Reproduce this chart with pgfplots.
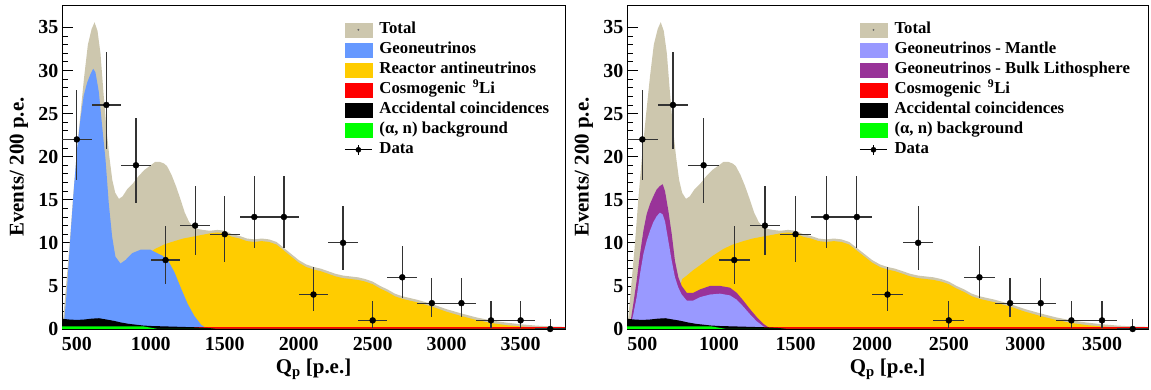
\documentclass[border=0pt]{standalone}
\usepackage{fontspec}
\setmainfont{Liberation Serif}
\usepackage{pgfplots}
\usepackage{pgfplotstable}
\pgfplotsset{compat=1.18}

\definecolor{tanc}{RGB}{205,199,174}
\definecolor{geoblue}{RGB}{102,153,255}
\definecolor{reacty}{RGB}{255,204,0}
\definecolor{mantle}{RGB}{153,153,255}
\definecolor{bulk}{RGB}{153,51,153}
\definecolor{alphag}{RGB}{0,255,0}
\definecolor{cosred}{RGB}{255,0,0}

% Total fitted spectrum
\pgfplotstableread{
q y
400 0
405 0.8
410 1.6
425 4.5
450 9.5
475 15.3
500 20.5
525 25.0
550 29.3
575 33.0
600 34.8
620 35.6
640 34.6
660 32.0
680 27.5
700 23.3
720 20.0
740 17.3
760 15.8
785 15.1
810 15.4
840 16.2
880 16.9
920 17.8
960 18.5
1000 19.0
1030 19.4
1060 19.4
1090 19.2
1110 18.9
1140 17.9
1170 16.6
1200 15.1
1230 13.5
1260 12.4
1290 11.8
1320 11.6
1350 11.5
1400 11.4
1450 11.5
1500 11.4
1550 11.0
1600 10.8
1650 10.5
1700 10.4
1750 10.5
1800 10.4
1850 10.1
1900 9.4
1950 8.7
2000 8.0
2050 7.5
2100 7.2
2150 7.0
2200 6.7
2250 6.4
2300 6.2
2350 6.1
2400 6.0
2450 5.8
2500 5.5
2550 5.0
2600 4.6
2650 4.1
2700 3.8
2800 3.4
2900 2.9
3000 2.3
3100 1.8
3200 1.35
3300 1.0
3400 0.75
3500 0.55
3600 0.4
3700 0.3
3800 0.25
}\tottab

% Reactor antineutrinos
\pgfplotstableread{
q y
400 0
500 0.6
600 2.0
700 3.5
740 4.6
760 5.8
790 6.2
830 6.8
900 7.7
960 8.5
1030 9.3
1090 9.8
1160 10.2
1220 10.5
1310 10.8
1400 11.1
1450 11.2
1500 11.1
1550 10.7
1600 10.5
1650 10.2
1700 10.1
1750 10.2
1800 10.1
1850 9.8
1900 9.1
1950 8.4
2000 7.7
2050 7.2
2100 6.9
2150 6.7
2200 6.4
2250 6.1
2300 5.9
2350 5.8
2400 5.7
2450 5.5
2500 5.2
2550 4.7
2600 4.3
2650 3.8
2700 3.5
2800 3.1
2900 2.6
3000 2.0
3100 1.5
3200 1.05
3300 0.7
3400 0.45
3500 0.3
3600 0.15
3700 0.05
3800 0
}\reactab

% Geoneutrinos (left)
\pgfplotstableread{
q y
400 0
412 0.3
435 4.9
457 10.7
480 16.2
502 20.9
525 24.4
547 27.1
570 28.6
593 29.6
611 30.2
626 29.8
649 27.5
671 23.6
694 19.7
716 14.6
739 10.7
761 8.4
795 7.6
829 8.0
874 8.8
931 9.2
998 9.2
1043 8.8
1080 8.5
1115 8.0
1160 6.6
1205 4.7
1250 2.9
1295 1.5
1340 0.5
1385 0
3800 0
}\geotab

% Geoneutrinos - bulk lithosphere (right)
\pgfplotstableread{
q y
400 0
420 0.5
441 2.9
463 5.6
485 8.7
507 11.4
528 13.3
550 14.5
572 15.4
594 16.2
615 16.6
633 16.8
648 16.0
670 13.7
692 11.0
713 7.9
735 6.0
757 5.0
790 4.2
833 4.2
877 4.6
942 5.0
1007 5.0
1072 4.8
1116 4.2
1159 3.3
1203 2.3
1246 1.4
1290 0.6
1323 0.2
1350 0
3800 0
}\bulktab

% Geoneutrinos - mantle (right)
\pgfplotstableread{
q y
400 0
425 0.5
441 1.7
463 3.7
485 6.4
507 8.7
528 10.2
550 11.4
572 12.4
594 13.1
615 13.5
633 13.3
648 12.5
670 10.2
692 7.9
713 6.0
735 4.8
757 4.0
790 3.3
833 3.3
877 3.7
942 4.0
1007 4.1
1072 3.9
1116 3.4
1159 2.6
1203 1.7
1246 0.9
1290 0.3
1323 0.05
1340 0
3800 0
}\mantab

% Cosmogenic 9Li
\pgfplotstableread{
q y
400 0.22
3800 0.22
}\litab

% Accidental coincidences
\pgfplotstableread{
q y
400 1.2
420 1.15
450 1.1
500 1.05
550 1.1
600 1.2
650 1.25
700 1.1
750 0.95
800 0.75
850 0.6
900 0.5
950 0.4
1000 0.35
1100 0.3
1200 0.25
1300 0.2
1400 0.1
1450 0
3800 0
}\acctab

% (alpha,n) background
\pgfplotstableread{
q y
400 0.3
950 0.3
1000 0.15
1050 0
3800 0
}\alphatab

% Data with asymmetric Poisson errors
\pgfplotstableread{
q n ep em
500 22 5.76 4.66
700 26 6.17 5.07
900 19 5.43 4.33
1100 8 3.96 2.77
1300 12 4.57 3.42
1500 11 4.42 3.27
1700 13 4.71 3.56
1900 13 4.71 3.56
2100 4 3.16 1.91
2300 10 4.27 3.11
2500 1 2.30 0.83
2700 6 3.58 2.38
2900 3 2.92 1.63
3100 3 2.92 1.63
3300 1 2.30 0.83
3500 1 2.30 0.83
3700 0 1.15 0
}\datatab

\pgfplotsset{
  legbox/.style={legend image code/.code={\fill[#1] (0bp,-7bp) rectangle (27bp,7bp);}},
  rootaxis/.style={
    scale only axis, anchor=south west,
    xmin=400, xmax=3800, ymin=0, ymax=37.6,
    xtick={500,1000,...,3500}, minor x tick num=4,
    ytick={0,5,...,35}, minor y tick num=4,
    xtick pos=bottom, ytick pos=left,
    tick align=inside,
    major tick length=11bp, minor tick length=6bp,
    every tick/.style={black, line width=0.8bp},
    axis line style={line width=0.8bp},
    scaled ticks=false,
    /pgf/number format/assume math mode=true,
    /pgf/number format/set thousands separator={},
    ticklabel style={font=\bfseries\fontsize{20}{20}\selectfont},
    xticklabel style={anchor=base, yshift=-22bp, inner sep=0pt},
    yticklabel style={anchor=east, xshift=-3.5bp, inner sep=0pt},
    xlabel={Q\textsubscript{p} [p.e.]},
    ylabel={Events/ 200 p.e.},
    label style={font=\bfseries\fontsize{21}{21}\selectfont},
    xlabel style={at={([yshift=-44bp]axis description cs:0.5,0)}, anchor=base, inner sep=0pt},
    ylabel style={at={([xshift=-43bp]axis description cs:0,0.5)}, anchor=center, inner sep=0pt},
    legend style={draw=none, fill=none,
      font=\bfseries\fontsize{16.8}{16.8}\selectfont,
      legend cell align=left, row sep=2bp,
      nodes={inner sep=1bp, text height=12bp, text depth=4bp},
      /tikz/every odd column/.append style={column sep=6bp}},
  },
  datastyle/.style={only marks, mark=*, mark size=3bp, black,
    /pgfplots/error bars/x dir=both, /pgfplots/error bars/x fixed=100,
    /pgfplots/error bars/y dir=both, /pgfplots/error bars/y explicit,
    /pgfplots/error bars/error bar style={line width=1.2bp, black!80},
    /pgfplots/error bars/error mark=none},
}

\begin{document}
\begin{tikzpicture}
\path[use as bounding box] (0,0) rectangle (1151bp,390bp);

% ---------------- Left panel ----------------
\begin{axis}[rootaxis, at={(62bp,61bp)}, width=503bp, height=324bp,
  legend style={at={(rel axis cs:0.555,0.958)}, anchor=north west}]
\addplot[fill=tanc, draw=none, forget plot] table[x=q,y=y] {\tottab} \closedcycle;
\addplot[fill=reacty, draw=none, forget plot] table[x=q,y=y] {\reactab} \closedcycle;
\addplot[fill=geoblue, draw=none, forget plot] table[x=q,y=y] {\geotab} \closedcycle;
\addplot[fill=cosred, draw=none, forget plot] table[x=q,y=y] {\litab} \closedcycle;
\addplot[fill=black, draw=none, forget plot] table[x=q,y=y] {\acctab} \closedcycle;
\addplot[fill=alphag, draw=none, forget plot] table[x=q,y=y] {\alphatab} \closedcycle;
\addplot[forget plot, datastyle] table[x=q, y=n, y error plus=ep, y error minus=em] {\datatab};

\addlegendimage{legend image code/.code={\fill[tanc] (0bp,-7bp) rectangle (27bp,7bp); \fill[black!60] (13.5bp,0bp) circle (0.7bp);}}
\addlegendentry{Total}
\addlegendimage{legbox=geoblue}
\addlegendentry{Geoneutrinos}
\addlegendimage{legbox=reacty}
\addlegendentry{Reactor antineutrinos}
\addlegendimage{legbox=cosred}
\addlegendentry{Cosmogenic \,\textsuperscript{9}Li}
\addlegendimage{legbox=black}
\addlegendentry{Accidental coincidences}
\addlegendimage{legbox=alphag}
\addlegendentry{(α, n) background}
\addlegendimage{legend image code/.code={\draw[black, line width=1.1bp] (0bp,0bp)--(27bp,0bp) (13.5bp,-5bp)--(13.5bp,5bp); \fill[black] (13.5bp,0bp) circle (2.6bp);}}
\addlegendentry{Data}
\end{axis}

% ---------------- Right panel ----------------
\begin{axis}[rootaxis, at={(627bp,61bp)}, width=521bp, height=324bp,
  legend style={at={(rel axis cs:0.44,0.958)}, anchor=north west}]
\addplot[fill=tanc, draw=none, forget plot] table[x=q,y=y] {\tottab} \closedcycle;
\addplot[fill=reacty, draw=none, forget plot] table[x=q,y=y] {\reactab} \closedcycle;
\addplot[fill=bulk, draw=none, forget plot] table[x=q,y=y] {\bulktab} \closedcycle;
\addplot[fill=mantle, draw=none, forget plot] table[x=q,y=y] {\mantab} \closedcycle;
\addplot[fill=cosred, draw=none, forget plot] table[x=q,y=y] {\litab} \closedcycle;
\addplot[fill=black, draw=none, forget plot] table[x=q,y=y] {\acctab} \closedcycle;
\addplot[fill=alphag, draw=none, forget plot] table[x=q,y=y] {\alphatab} \closedcycle;
\addplot[forget plot, datastyle] table[x=q, y=n, y error plus=ep, y error minus=em] {\datatab};

\addlegendimage{legend image code/.code={\fill[tanc] (0bp,-7bp) rectangle (27bp,7bp); \fill[black!60] (13.5bp,0bp) circle (0.7bp);}}
\addlegendentry{Total}
\addlegendimage{legbox=mantle}
\addlegendentry{Geoneutrinos - Mantle}
\addlegendimage{legbox=bulk}
\addlegendentry{Geoneutrinos - Bulk Lithosphere}
\addlegendimage{legbox=cosred}
\addlegendentry{Cosmogenic \,\textsuperscript{9}Li}
\addlegendimage{legbox=black}
\addlegendentry{Accidental coincidences}
\addlegendimage{legbox=alphag}
\addlegendentry{(α, n) background}
\addlegendimage{legend image code/.code={\draw[black, line width=1.1bp] (0bp,0bp)--(27bp,0bp) (13.5bp,-5bp)--(13.5bp,5bp); \fill[black] (13.5bp,0bp) circle (2.6bp);}}
\addlegendentry{Data}
\end{axis}
\end{tikzpicture}
\end{document}
